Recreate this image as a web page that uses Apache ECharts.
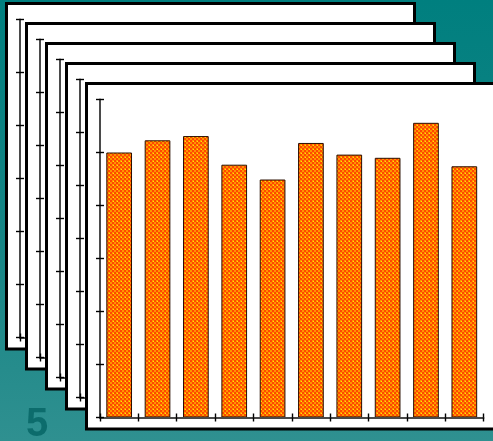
<!DOCTYPE html>
<html>
<head>
<meta charset="utf-8">
<script src="https://cdn.jsdelivr.net/npm/echarts@6/dist/echarts.min.js"></script>
<style>
  html, body { margin: 0; padding: 0; }
  body { background: linear-gradient(to bottom, #007f7f 0%, #168585 55%, #2f9090 100%); }
  #chart { width: 493px; height: 441px; }
</style>
</head>
<body>
<div id="chart"></div>
<script>
// Ten samples, one bar each
const categories = ['1', '2', '3', '4', '5', '6', '7', '8', '9', '10'];
const values = [50.0, 52.3, 53.1, 47.7, 44.9, 51.8, 49.6, 49.0, 55.6, 47.4];
// Value axis: 0..60 in steps of 10 (unlabelled ticks)
const yMin = 0;
const yMax = 60;
const yStep = 10;
// Number of stacked sheets, the front one last
const sheetCount = 5;
const sheetLabel = '5';

// Small dithered orange tile used as the bar fill
function makePattern() {
  const c = document.createElement('canvas');
  c.width = 4; c.height = 4;
  const g = c.getContext('2d');
  const cells = [
    ['#ff9400', '#ff4800'],
    ['#ff4800', '#ff9400']
  ];
  for (let r = 0; r < 2; r++) {
    for (let k = 0; k < 2; k++) {
      g.fillStyle = cells[r][k];
      g.fillRect(k * 2, r * 2, 2, 2);
    }
  }
  g.fillStyle = '#ffea00';
  g.fillRect(1, 1, 1, 1);
  return c;
}
const pattern = makePattern();

const chart = echarts.init(document.getElementById('chart'), null, { renderer: 'canvas' });

const grids = [], xAxes = [], yAxes = [], series = [], graphics = [];
const axisColor = '#4a4a4a';
const tickStyle = { color: '#000', width: 1.4 };

for (let i = 0; i < sheetCount; i++) {
  const dx = 20 * i, dy = 20 * i;
  const zBase = 10 * (i + 1);

  // the sheet itself
  graphics.push({
    type: 'rect',
    z: zBase,
    shape: { x: 6.5 + dx, y: 3.5 + dy, width: 408, height: 345.5 },
    style: { fill: '#ffffff', stroke: '#000000', lineWidth: 3 }
  });

  grids.push({ left: 20 + dx, top: 19.5 + dy, width: 383.5, height: 318, containLabel: false });

  // x axis: line + ticks below
  xAxes.push({
    type: 'category', gridIndex: i, data: categories, z: zBase + 3,
    position: 'bottom', boundaryGap: true,
    axisLine: { show: true, lineStyle: { color: axisColor, width: 2 } },
    axisTick: { show: true, length: 4, lineStyle: tickStyle },
    axisLabel: { show: false }, splitLine: { show: false }
  });
  // x axis: ticks above (so they cross the line)
  xAxes.push({
    type: 'category', gridIndex: i, data: categories, z: zBase + 3,
    position: 'bottom', offset: 0, boundaryGap: true,
    axisLine: { show: false },
    axisTick: { show: true, inside: true, length: 4, lineStyle: tickStyle },
    axisLabel: { show: false }, splitLine: { show: false }
  });
  // y axis: line + ticks on the left
  yAxes.push({
    type: 'value', gridIndex: i, min: yMin, max: yMax, interval: yStep, z: zBase + 3,
    position: 'left',
    axisLine: { show: true, lineStyle: { color: axisColor, width: 2 } },
    axisTick: { show: true, length: 4, lineStyle: tickStyle },
    axisLabel: { show: false }, splitLine: { show: false }
  });
  // y axis: ticks on the right of the line
  yAxes.push({
    type: 'value', gridIndex: i, min: yMin, max: yMax, interval: yStep, z: zBase + 3,
    position: 'left', offset: 0,
    axisLine: { show: false },
    axisTick: { show: true, inside: true, length: 4, lineStyle: tickStyle },
    axisLabel: { show: false }, splitLine: { show: false }
  });

  series.push({
    type: 'bar',
    xAxisIndex: 2 * i,
    yAxisIndex: 2 * i,
    z: zBase + 2,
    data: values,
    barCategoryGap: '33%',
    itemStyle: {
      color: { image: pattern, repeat: 'repeat' },
      borderColor: '#2a1000',
      borderWidth: 1
    },
    emphasis: { disabled: true },
    silent: true,
    animation: false
  });
}

graphics.push({
  type: 'text',
  z: 100,
  left: 26,
  top: 405,
  style: {
    text: sheetLabel,
    fill: '#0c6c6c',
    font: 'bold 40px "Liberation Sans", Arial, sans-serif'
  }
});

chart.setOption({
  animation: false,
  backgroundColor: 'transparent',
  grid: grids,
  xAxis: xAxes,
  yAxis: yAxes,
  series: series,
  graphic: graphics
});
</script>
</body>
</html>
